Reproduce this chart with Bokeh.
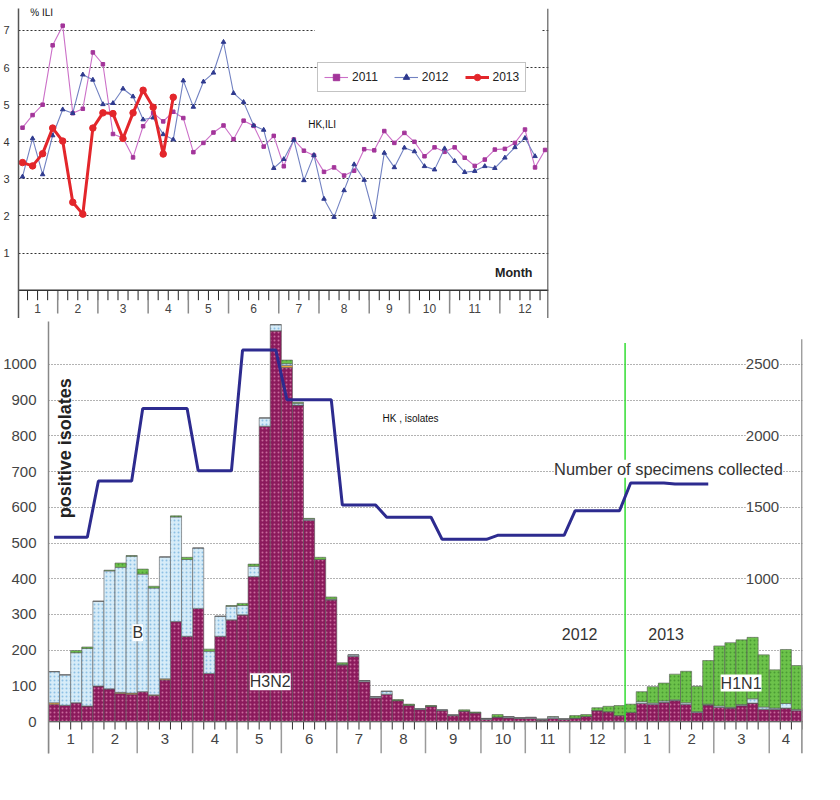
from bokeh.plotting import figure
from bokeh.models import Range1d, FixedTicker, Label, Legend, LegendItem, BoxAnnotation, ColumnDataSource
from bokeh.embed import file_html
from bokeh.resources import INLINE

FONT = "Liberation Sans"

# ---------------- top chart data: % ILI by week ----------------
ili_2011 = [4.38, 4.72, 5.00, 6.60, 7.13, 4.77, 4.89, 6.41, 6.09, 4.21, 4.10, 3.58, 4.42,
            4.78, 4.55, 4.81, 4.64, 3.72, 3.97, 4.25, 4.44, 4.07, 4.57, 4.43, 3.87, 4.16,
            3.34, 4.06, 3.76, 3.63, 3.19, 3.31, 3.09, 3.22, 3.80, 3.77, 4.29, 3.97, 4.24,
            4.00, 3.61, 3.85, 3.73, 3.85, 3.57, 3.35, 3.52, 3.79, 3.81, 3.97, 4.33, 3.31, 3.78]
ili_2012 = [3.06, 4.09, 3.12, 4.17, 4.87, 4.77, 5.81, 5.67, 5.01, 5.04, 5.43, 5.22, 4.60,
            4.65, 4.20, 4.06, 5.65, 4.94, 5.62, 5.86, 6.69, 5.31, 5.07, 4.44, 4.32, 3.29,
            3.53, 4.05, 2.96, 3.64, 2.46, 1.97, 2.69, 3.39, 2.97, 1.97, 3.70, 3.31, 3.84,
            3.74, 3.34, 3.25, 3.82, 3.48, 3.18, 3.21, 3.34, 3.29, 3.57, 3.85, 4.10, 3.61]
ili_2013 = [3.44, 3.35, 3.68, 4.37, 4.02, 2.37, 2.05, 4.37, 4.78, 4.76, 4.09, 4.78, 5.39,
            4.93, 3.67, 5.20]
top_month_labels = ["1", "2", "3", "4", "5", "6", "7", "8", "9", "10", "11", "12"]
top_month_weeks = [4, 4, 5, 4, 4, 5, 4, 5, 4, 4, 5, 5]
ili_ticks = [1, 2, 3, 4, 5, 6, 7]

# ---------------- bottom chart data: positive isolates by week ----------------
h3n2 = [49, 46, 53, 44, 100, 92, 79, 77, 84, 73, 117, 280, 239, 317, 135, 239, 285, 299,
        406, 827, 1094, 991, 886, 564, 454, 341, 159, 183, 112, 67, 77, 59, 46, 34, 43, 31,
        17, 30, 25, 7, 13, 11, 9, 9, 5, 9, 6, 10, 15, 31, 28, 17,
        26, 51, 49, 54, 59, 49, 26, 47, 40, 38, 45, 52, 35, 35, 38, 31]
h1_other = [4, 0, 0, 0, 0, 0, 3, 3, 0, 2, 3, 0, 0, 0, 0, 0, 0, 0, 0, 0, 0, 6, 0, 0, 0, 0,
            0, 0, 0, 0, 0, 0, 0, 0, 0, 0, 0, 0, 0, 0, 0, 0, 0, 0, 0, 0, 0, 0, 0, 0, 0, 0,
            0, 0, 0, 0, 0, 0, 0, 0, 0, 0, 0, 0, 0, 0, 0, 0]
flu_b = [87, 85, 140, 161, 237, 330, 350, 383, 329, 299, 341, 293, 215, 169, 62, 56, 38, 26,
         29, 23, 17, 5, 5, 3, 0, 2, 2, 4, 3, 3, 8, 0, 0, 2, 0, 2, 2, 0, 0, 2, 0, 3, 2, 3, 2,
         4, 2, 0, 0, 0, 0, 0,
         0, 5, 3, 4, 2, 4, 2, 2, 4, 2, 3, 12, 6, 3, 13, 3]
h1n1 = [0, 0, 6, 4, 0, 2, 12, 2, 14, 5, 0, 3, 6, 0, 6, 0, 2, 6, 6, 0, 0, 10, 3, 2, 6, 6,
        4, 0, 0, 0, 0, 3, 3, 0, 2, 0, 0, 3, 2, 0, 7, 0, 0, 0, 0, 1, 0, 7, 5, 8, 15, 28,
        23, 28, 46, 50, 72, 88, 71, 122, 168, 181, 181, 172, 146, 107, 151, 123]
specimens = [1290, 1290, 1290, 1290, 1684, 1684, 1684, 1684, 2192, 2192, 2192, 2192, 2192,
             1756, 1756, 1756, 1756, 2600, 2600, 2600, 2600, 2253, 2253, 2253, 2253, 2253,
             1516, 1516, 1516, 1516, 1430, 1430, 1430, 1430, 1430, 1276, 1276, 1276, 1276,
             1276, 1304, 1304, 1304, 1304, 1304, 1304, 1304, 1476, 1476, 1476, 1476, 1476,
             1670, 1670, 1670, 1670, 1663, 1663, 1663, 1663]
bot_month_labels = ["1", "2", "3", "4", "5", "6", "7", "8", "9", "10", "11", "12",
                    "1", "2", "3", "4"]
bot_month_weeks = [4, 4, 5, 4, 4, 5, 4, 4, 5, 4, 4, 5, 4, 4, 5, 3]
isolate_ticks = [0, 100, 200, 300, 400, 500, 600, 700, 800, 900, 1000]
specimen_ticks = [1000, 1500, 2000, 2500]
weeks_2012 = 52


def month_geometry(weeks_per_month):
    bounds = [0.5]
    for n in weeks_per_month:
        bounds.append(bounds[-1] + n)
    centers = [(bounds[i] + bounds[i + 1]) / 2 for i in range(len(weeks_per_month))]
    return bounds, centers


# =============================== TOP CHART ===============================
TX0, TX1 = 0.6, 53.34
TY0, TY1 = -0.763, 7.593
p1 = figure(frame_width=530, frame_height=310, x_range=Range1d(TX0, TX1),
            y_range=Range1d(TY0, TY1), x_axis_location=None,
            output_backend="svg", toolbar_location=None,
            min_border_left=10, min_border_right=2, min_border_top=8, min_border_bottom=0)
p1.outline_line_color = None
p1.xgrid.visible = False
p1.yaxis.ticker = FixedTicker(ticks=ili_ticks)
p1.ygrid.ticker = FixedTicker(ticks=ili_ticks)
p1.ygrid.grid_line_dash = "2 2"
p1.ygrid.grid_line_color = "#333333"
p1.ygrid.grid_line_width = 1
p1.yaxis.major_tick_line_color = None
p1.yaxis.minor_tick_line_color = None
p1.yaxis.axis_line_color = "#555555"
p1.yaxis.axis_line_width = 1.5
p1.yaxis.major_label_text_font = FONT
p1.yaxis.major_label_text_font_size = "11px"
p1.yaxis.major_label_text_color = "#333333"
p1.yaxis.major_label_standoff = 3

# hidden gridline stretch near the top (white box as in the original)
p1.add_layout(BoxAnnotation(left=30.1, right=52.6, bottom=6.8, top=7.2,
                            fill_color="white", fill_alpha=1, line_color=None))

# category axis drawn inside the frame
tb, tc = month_geometry(top_month_weeks)
week_bounds_top = [0.5 + k for k in range(sum(top_month_weeks) + 1)]
p1.segment(x0=week_bounds_top, y0=[0] * len(week_bounds_top), x1=week_bounds_top,
           y1=[-0.27] * len(week_bounds_top), line_color="#222222", line_width=1)
p1.segment(x0=tb, y0=[0] * len(tb), x1=tb, y1=[-0.63] * len(tb),
           line_color="#8a8a8a", line_width=1.5)
p1.segment(x0=[TX0], y0=[0], x1=[TX1], y1=[0], line_color="#333333", line_width=1.6)
p1.segment(x0=[TX1 - 0.05], y0=[TY0], x1=[TX1 - 0.05], y1=[TY1],
           line_color="#555555", line_width=1.5)
for lab, cx in zip(top_month_labels, tc):
    p1.add_layout(Label(x=cx, y=-0.485, text=lab, text_align="center", text_baseline="middle",
                        text_font=FONT, text_font_size="12px", text_color="#444444"))

w11 = list(range(1, len(ili_2011) + 1))
w12 = list(range(1, len(ili_2012) + 1))
w13 = list(range(1, len(ili_2013) + 1))
l11 = p1.line(w11, ili_2011, line_color="#cc70c8", line_width=1.1)
s11 = p1.scatter(w11, ili_2011, marker="square", size=3.5, color="#a3359a")
l12 = p1.line(w12, ili_2012, line_color="#7282c2", line_width=1.1)
s12 = p1.scatter(w12, ili_2012, marker="triangle", size=4.5, color="#2f3a8f")
l13 = p1.line(w13, ili_2013, line_color="#e3262b", line_width=3)
s13 = p1.scatter(w13, ili_2013, marker="circle", size=6.5, color="#e3262b")

legend = Legend(items=[LegendItem(label="2011", renderers=[l11, s11]),
                       LegendItem(label="2012", renderers=[l12, s12]),
                       LegendItem(label="2013", renderers=[l13, s13])],
                location=(299, 226), orientation="horizontal")
legend.label_text_font = FONT
legend.label_text_font_size = "12px"
legend.label_text_color = "#222222"
legend.glyph_width = 24
legend.glyph_height = 16
legend.label_height = 16
legend.label_standoff = 4
legend.spacing = 16
legend.padding = 6
legend.margin = 0
legend.border_line_color = "#888888"
legend.border_line_width = 1.5
legend.background_fill_color = "white"
legend.background_fill_alpha = 1
p1.add_layout(legend, "center")

p1.add_layout(Label(x=1.77, y=7.48, text="% ILI", text_baseline="middle",
                    text_font=FONT, text_font_size="10px", text_color="#111111"))
p1.add_layout(Label(x=29.43, y=4.47, text="HK,ILI", text_baseline="middle",
                    text_font=FONT, text_font_size="10px", text_color="#111111"))
p1.add_layout(Label(x=49.88, y=0.47, text="Month", text_align="center", text_baseline="middle",
                    text_font=FONT, text_font_size="12.5px", text_font_style="bold",
                    text_color="#222222"))

# =============================== BOTTOM CHART ===============================
BX0, BX1 = 0.5, 68.5
BY0, BY1 = -89.1, 1120
p2 = figure(frame_width=754, frame_height=432, x_range=Range1d(BX0, BX1),
            y_range=Range1d(BY0, BY1), x_axis_location=None,
            output_backend="svg", toolbar_location=None,
            min_border_left=41, min_border_right=10, min_border_top=3, min_border_bottom=5)
p2.extra_y_ranges = {"spec": Range1d(BY0 * 2.5, BY1 * 2.5)}
p2.outline_line_color = None
p2.xgrid.visible = False
p2.yaxis.ticker = FixedTicker(ticks=isolate_ticks)
p2.ygrid.ticker = FixedTicker(ticks=isolate_ticks)
p2.ygrid.grid_line_dash = "1 2"
p2.ygrid.grid_line_color = "#666666"
p2.ygrid.grid_line_width = 1.2
p2.yaxis.major_tick_line_color = None
p2.yaxis.minor_tick_line_color = None
p2.yaxis.axis_line_color = "#888888"
p2.yaxis.axis_line_width = 1.5
p2.yaxis.major_label_text_font = FONT
p2.yaxis.major_label_text_font_size = "15px"
p2.yaxis.major_label_text_color = "#444444"
p2.yaxis.major_label_standoff = 6

weeks_all = list(range(1, len(h3n2) + 1))
src = ColumnDataSource(dict(x=weeks_all, h3n2=h3n2, other=h1_other, b=flu_b, h1n1=h1n1))
p2.vbar_stack(["h3n2", "other", "b", "h1n1"], x="x", width=1.0, source=src,
              fill_color=["#8b1a5c", "#e9a23a", "#d6ecf8", "#6cc24a"],
              line_color="#5a5a5a", line_width=0.6,
              hatch_pattern=["dot", "dot", "dot", "dot"],
              hatch_color=["#c86a9c", "#f6d080", "#8cc0e4", "#4a9a34"],
              hatch_scale=4, hatch_weight=1)

bb, bc = month_geometry(bot_month_weeks)
week_bounds_bot = [0.5 + k for k in range(sum(bot_month_weeks) + 1)]
p2.segment(x0=week_bounds_bot, y0=[0] * len(week_bounds_bot), x1=week_bounds_bot,
           y1=[-22] * len(week_bounds_bot), line_color="#333333", line_width=1)
p2.segment(x0=bb, y0=[0] * len(bb), x1=bb, y1=[BY0] * len(bb),
           line_color="#9a9a9a", line_width=1.5)
p2.segment(x0=[BX0], y0=[0], x1=[BX1], y1=[0], line_color="#666666", line_width=1.2)
p2.segment(x0=[BX1 - 0.05], y0=[BY0], x1=[BX1 - 0.05], y1=[1070],
           line_color="#888888", line_width=1.5)
for lab, cx in zip(bot_month_labels, bc):
    p2.add_layout(Label(x=cx, y=-48, text=lab, text_align="center", text_baseline="middle",
                        text_font=FONT, text_font_size="15px", text_color="#444444"))

# year separator
p2.segment(x0=[weeks_2012 + 0.5], y0=[0], x1=[weeks_2012 + 0.5], y1=[1060],
           line_color="#33dd33", line_width=1.5)

# number of specimens collected (right scale)
p2.line(list(range(1, len(specimens) + 1)), specimens, y_range_name="spec",
        line_color="#2d2b8f", line_width=3)
for v in specimen_ticks:
    p2.add_layout(Label(x=66.4, y=v, y_range_name="spec", text=str(v), text_align="right",
                        text_baseline="middle", text_font=FONT, text_font_size="15px",
                        text_color="#444444", background_fill_color="white"))

p2.add_layout(Label(x=1.97, y=772, text="positive  isolates", angle=90, angle_units="deg",
                    text_align="center", text_baseline="middle", text_font=FONT,
                    text_font_size="18px", text_font_style="bold", text_color="#222222"))
p2.add_layout(Label(x=30.62, y=848, text="HK , isolates", text_baseline="middle",
                    text_font=FONT, text_font_size="10px", text_color="#111111"))
p2.add_layout(Label(x=46.1, y=708, text="Number of specimens collected", text_baseline="middle",
                    text_font=FONT, text_font_size="16.4px", text_color="#333333",
                    background_fill_color="white"))
p2.add_layout(Label(x=48.4, y=245, text="2012", text_align="center", text_baseline="middle",
                    text_font=FONT, text_font_size="16px", text_color="#333333"))
p2.add_layout(Label(x=56.2, y=244, text="2013", text_align="center", text_baseline="middle",
                    text_font=FONT, text_font_size="16px", text_color="#333333"))
for txt, lx, ly in [("B", 8.55, 249), ("H3N2", 20.5, 112), ("H1N1", 62.96, 108)]:
    p2.add_layout(Label(x=lx, y=ly, text=txt, text_align="center", text_baseline="middle",
                        text_font=FONT, text_font_size="16px", text_color="#333333",
                        background_fill_color="white"))

# two separate roots, stacked on the page without border alignment
open("out.html", "w").write(file_html([p1, p2], INLINE))
